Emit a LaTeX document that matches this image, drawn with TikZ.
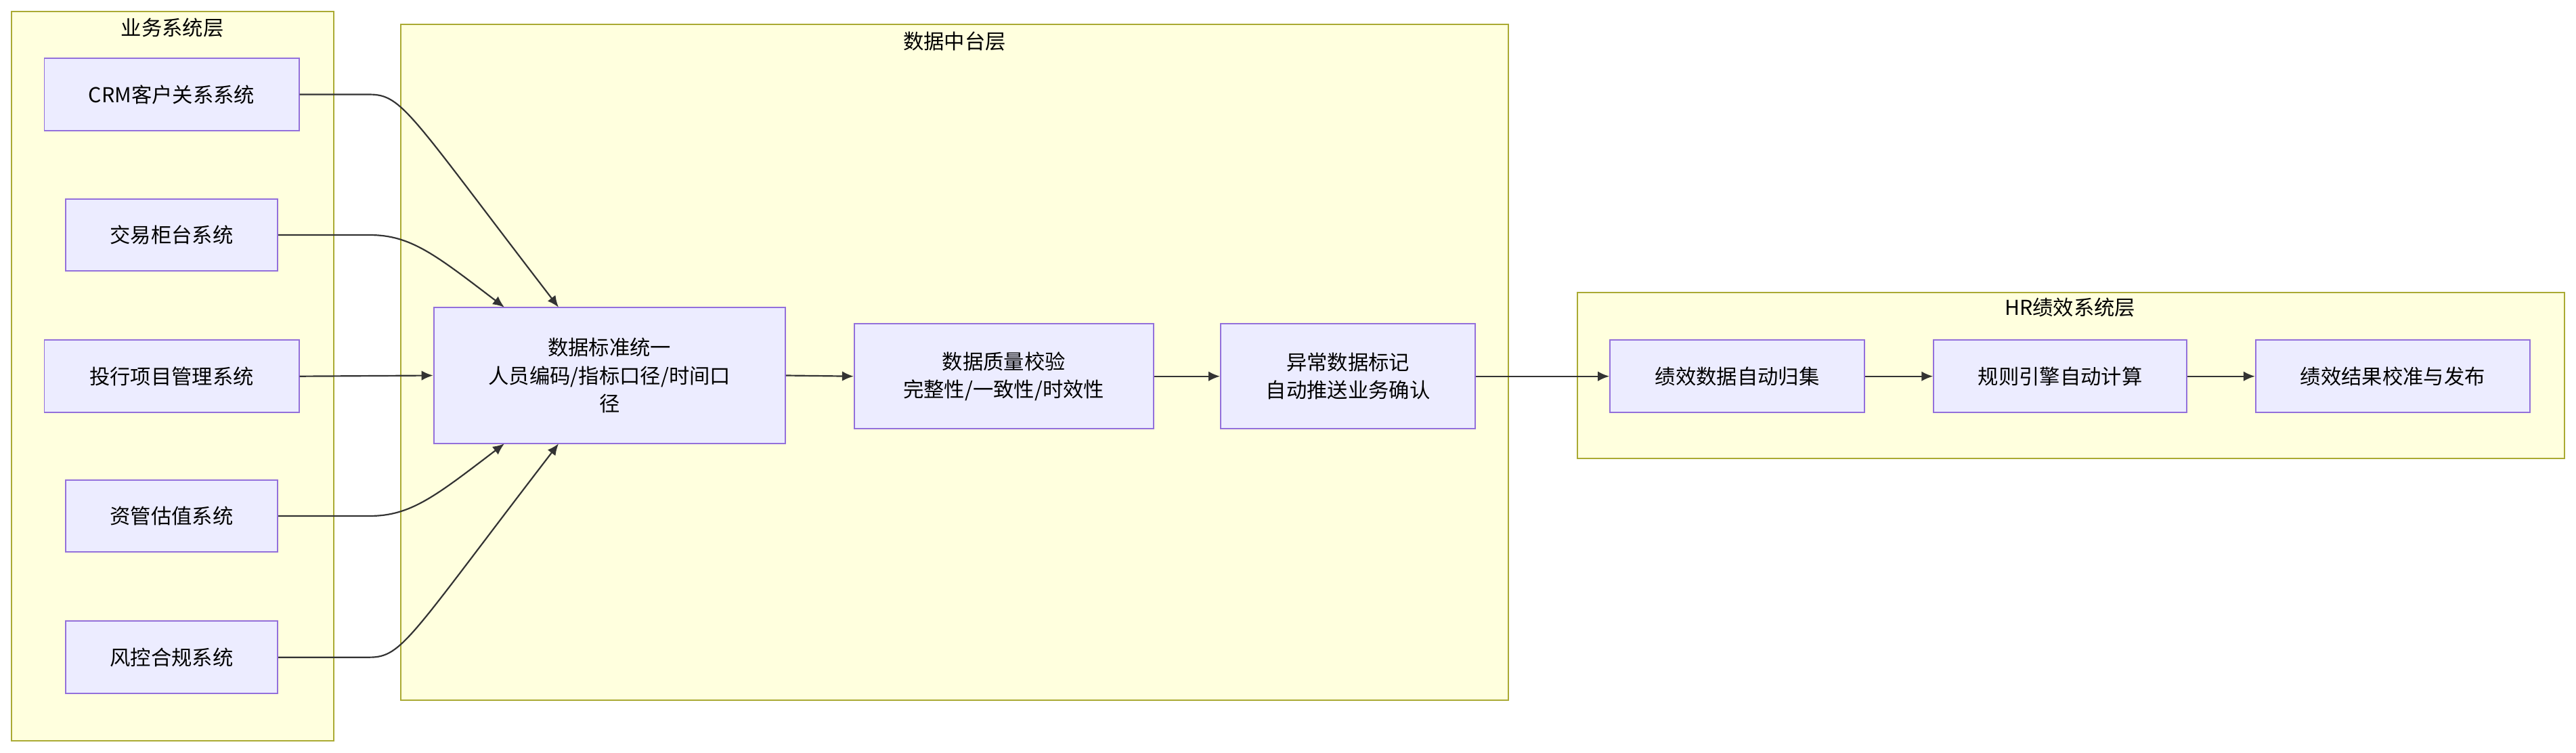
\documentclass[tikz,border=0pt]{standalone}
\usepackage{fontspec}
\setmainfont{Noto Sans CJK SC}
\usetikzlibrary{arrows.meta}
\definecolor{boxfill}{HTML}{ECECFF}
\definecolor{boxline}{HTML}{9370DB}
\definecolor{layfill}{HTML}{FFFFDE}
\definecolor{layline}{HTML}{AAAA33}
\tikzset{
 layer/.style={draw=layline,fill=layfill,line width=0.8pt},
 proc/.style={draw=boxline,fill=boxfill,line width=0.8pt,align=center,font=\fontsize{12.5}{17}\selectfont,inner sep=0pt},
 ttl/.style={font=\fontsize{12.5}{15}\selectfont},
 link/.style={draw=black!80,line width=0.9pt,-{Latex[length=7pt,width=6pt]}}
}
\begin{document}
\begin{tikzpicture}[x=1pt,y=-1pt]
\useasboundingbox (0,0) rectangle (1568,458);
\fill[white] (0,0) rectangle (1568,458);
\draw[layer] (7,7) rectangle (203,451);
\node[ttl] (t1) at (105,17) {业务系统层};
\draw[layer] (244,15) rectangle (918,426);
\node[ttl] (t2) at (581,25) {数据中台层};
\draw[layer] (960,178) rectangle (1561,279);
\node[ttl] (t3) at (1260,187) {HR绩效系统层};

\node[proc,minimum width=155pt,minimum height=44pt] (crm) at (104.5,57.5) {CRM客户关系系统};
\node[proc,minimum width=129pt,minimum height=44pt] (jy) at (104.5,143) {交易柜台系统};
\node[proc,minimum width=155pt,minimum height=44pt] (tx) at (104.5,229) {投行项目管理系统};
\node[proc,minimum width=129pt,minimum height=44pt] (zg) at (104.5,314) {资管估值系统};
\node[proc,minimum width=129pt,minimum height=44pt] (fk) at (104.5,400) {风控合规系统};

\node[proc,minimum width=214pt,minimum height=83pt] (std) at (371,228.5) {数据标准统一\\人员编码/指标口径/时间口\\径};
\node[proc,minimum width=182pt,minimum height=64pt] (qc) at (611,229) {数据质量校验\\完整性/一致性/时效性};
\node[proc,minimum width=155pt,minimum height=64pt] (ab) at (820.5,229) {异常数据标记\\自动推送业务确认};

\node[proc,minimum width=155pt,minimum height=44pt] (h1) at (1057.5,229) {绩效数据自动归集};
\node[proc,minimum width=154pt,minimum height=44pt] (h2) at (1254,229) {规则引擎自动计算};
\node[proc,minimum width=167pt,minimum height=44pt] (h3) at (1456.5,229) {绩效结果校准与发布};

\coordinate (s1) at (340,187);
\coordinate (s2) at (307,187);
\coordinate (s4) at (307,270);
\coordinate (s5) at (340,270);
\draw[link] (crm.east) -- (225,57.5) .. controls (245,57.5) and (250,70) .. (s1);
\draw[link] (jy.east) -- (225,143) .. controls (250,143) and (265,155) .. (s2);
\draw[link] (tx.east) -- (std.west);
\draw[link] (zg.east) -- (225,314) .. controls (250,314) and (265,302) .. (s4);
\draw[link] (fk.east) -- (225,400) .. controls (245,400) and (250,387) .. (s5);
\draw[link] (std.east) -- (qc.west);
\draw[link] (qc.east) -- (ab.west);
\draw[link] (ab.east) -- (h1.west);
\draw[link] (h1.east) -- (h2.west);
\draw[link] (h2.east) -- (h3.west);
\end{tikzpicture}
\end{document}
